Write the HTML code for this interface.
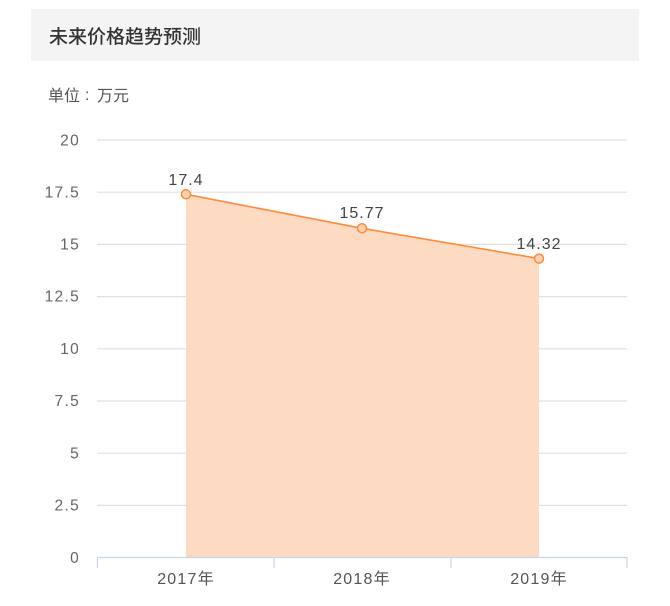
<!DOCTYPE html>
<html><head><meta charset="utf-8"><style>
html,body{margin:0;padding:0;background:#fff;width:670px;height:606px;overflow:hidden}
svg{display:block}
</style></head><body>
<svg width="670" height="606" viewBox="0 0 670 606" xmlns="http://www.w3.org/2000/svg" font-family="'Liberation Sans','Noto Sans CJK SC',sans-serif">
<rect x="31" y="9" width="608" height="52" fill="#f4f4f4"/>
<text x="49" y="43" font-size="19" fill="#333" font-family="'Noto Sans CJK SC',sans-serif" font-weight="500">未来价格趋势预测</text>
<g font-size="16" fill="#555" font-family="'Noto Sans CJK SC',sans-serif">
<text x="48" y="101">单位</text>
<text x="85" y="100" font-family="'Liberation Sans',sans-serif">:</text>
<text x="97" y="101">万元</text>
</g>
<g stroke="#e0e0e0" stroke-width="1.2">
<line x1="97" y1="140" x2="627" y2="140"/>
<line x1="97" y1="192.2" x2="627" y2="192.2"/>
<line x1="97" y1="244.4" x2="627" y2="244.4"/>
<line x1="97" y1="296.6" x2="627" y2="296.6"/>
<line x1="97" y1="348.8" x2="627" y2="348.8"/>
<line x1="97" y1="401" x2="627" y2="401"/>
<line x1="97" y1="453.2" x2="627" y2="453.2"/>
<line x1="97" y1="505.4" x2="627" y2="505.4"/>
</g>
<g font-size="15.5" fill="#666" text-anchor="end" letter-spacing="1.3">
<text x="80" y="145.5">20</text>
<text x="80" y="197.5">17.5</text>
<text x="80" y="249.5">15</text>
<text x="80" y="301.5">12.5</text>
<text x="80" y="354">10</text>
<text x="80" y="406">7.5</text>
<text x="80" y="458.5">5</text>
<text x="80" y="510.5">2.5</text>
<text x="80" y="563">0</text>
</g>
<polygon points="186,194.3 362,228.3 539,258.6 539,557.5 186,557.5" fill="#fddbc3"/>
<polyline points="186,194.3 362,228.3 539,258.6" fill="none" stroke="#ff8a3a" stroke-width="1.6"/>
<g fill="#fdd3b3" stroke="#ff8a3a" stroke-width="1.5">
<circle cx="186" cy="194.3" r="4.5"/>
<circle cx="362" cy="228.3" r="4.5"/>
<circle cx="539" cy="258.6" r="4.5"/>
</g>
<g font-size="16" fill="#444" text-anchor="middle" letter-spacing="1">
<text x="186" y="185">17.4</text>
<text x="362" y="218">15.77</text>
<text x="539" y="249">14.32</text>
</g>
<g stroke="#c6d6ec" stroke-width="1.2">
<line x1="97" y1="557.5" x2="627" y2="557.5"/>
<line x1="97.5" y1="557" x2="97.5" y2="568"/>
<line x1="274" y1="557" x2="274" y2="568"/>
<line x1="451" y1="557" x2="451" y2="568"/>
<line x1="627" y1="557" x2="627" y2="568"/>
</g>
<g font-size="16" fill="#555" text-anchor="middle" letter-spacing="1.2">
<text x="186" y="584">2017年</text>
<text x="362" y="584">2018年</text>
<text x="539" y="584">2019年</text>
</g>
</svg>
</body></html>
